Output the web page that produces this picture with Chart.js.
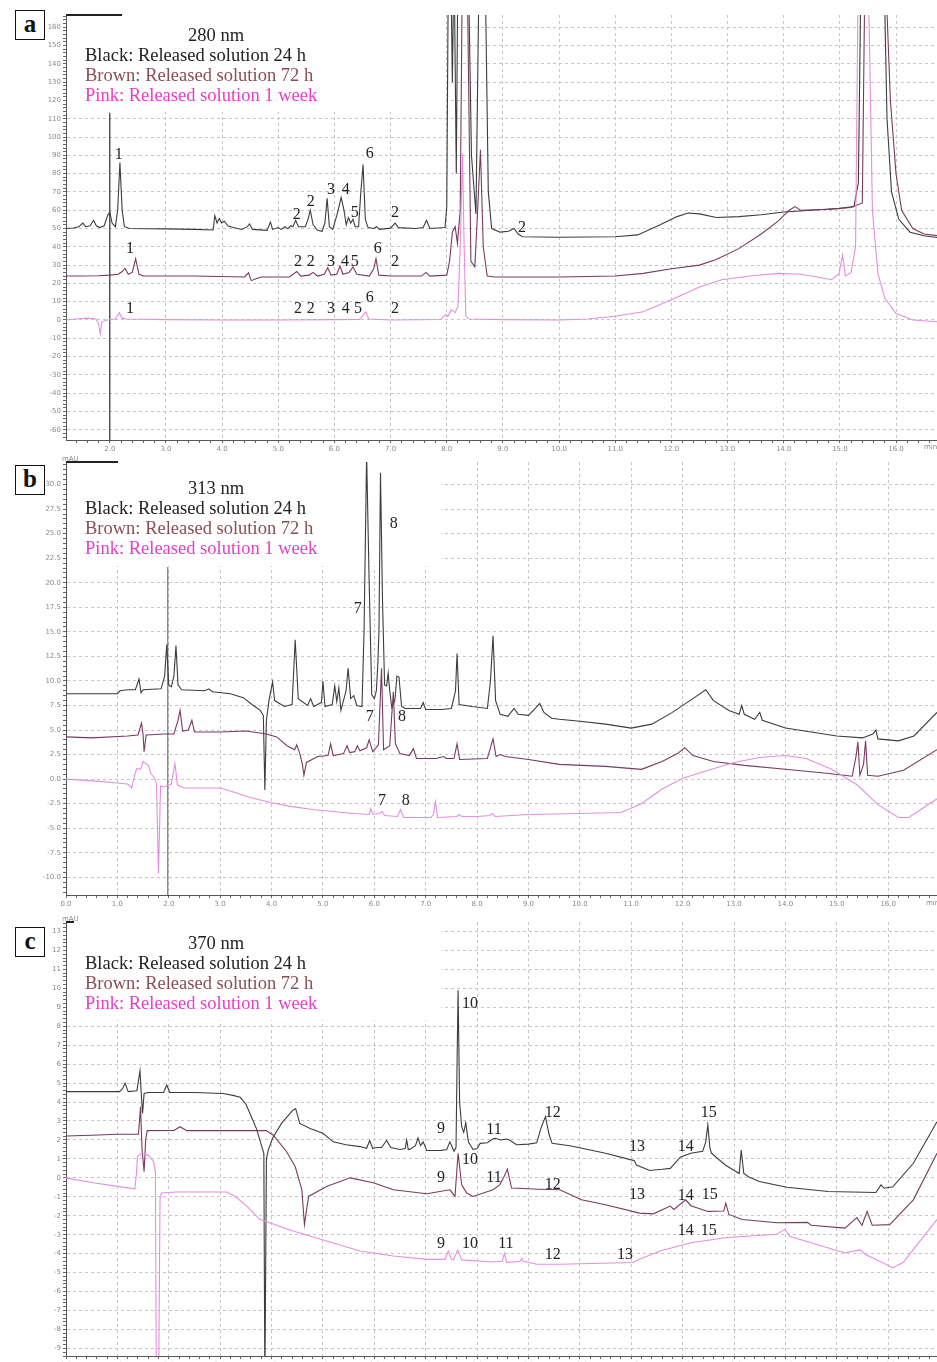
<!DOCTYPE html>
<html><head><meta charset="utf-8">
<script src="https://cdn.jsdelivr.net/npm/chart.js@4.4.1/dist/chart.umd.min.js"></script>
<style>
html,body{margin:0;padding:0;background:#fff;}
body{width:937px;height:1362px;overflow:hidden;position:relative;}
canvas{position:absolute;left:0;}
.tag{position:absolute;left:15px;width:28px;height:28px;border:1.6px solid #111;font:bold 25px "Liberation Serif",serif;line-height:25px;text-align:center;color:#111;background:#fff;z-index:5}
.leg{position:absolute;left:85px;font:18.5px "Liberation Serif",serif;line-height:20px;z-index:5;white-space:nowrap}
.leg div{height:20px}
.nm{padding-left:103px;color:#222}
.k{color:#222}.br{color:#8a4d57}.pk{color:#e23fc8}
.sm{position:absolute;font:7px "DejaVu Sans",sans-serif;color:#888;z-index:5}
</style></head>
<body>
<canvas id="ca" width="937" height="453" style="top:7px"></canvas>
<canvas id="cb" width="937" height="461" style="top:454px"></canvas>
<canvas id="cc" width="937" height="462" style="top:914px"></canvas>

<div class="tag" style="top:10px">a</div>
<div class="tag" style="top:465px">b</div>
<div class="tag" style="top:927px">c</div>

<div class="leg" style="top:25px"><div class="nm">280 nm</div><div class="k">Black: Released solution 24 h</div><div class="br">Brown: Released solution 72 h</div><div class="pk">Pink: Released solution 1 week</div></div>
<div class="leg" style="top:478px"><div class="nm">313 nm</div><div class="k">Black: Released solution 24 h</div><div class="br">Brown: Released solution 72 h</div><div class="pk">Pink: Released solution 1 week</div></div>
<div class="leg" style="top:933px"><div class="nm">370 nm</div><div class="k">Black: Released solution 24 h</div><div class="br">Brown: Released solution 72 h</div><div class="pk">Pink: Released solution 1 week</div></div>

<div class="sm" style="left:924px;top:443px">min</div>
<div class="sm" style="left:926px;top:899px">min</div>
<div class="sm" style="left:62px;top:455px">mAU</div>
<div class="sm" style="left:62px;top:915px">mAU</div>

<script>
// ---------- Panel a : 280 nm ----------
const A280_BLACK = [[1.22,50],[1.35,50.3],[1.45,51],[1.52,53],[1.57,51],[1.65,51.5],[1.71,54.5],[1.76,51.5],[1.82,50.5],[1.9,51.5],[1.96,57],[2.0,59],[2.04,53],[2.1,51],[2.14,60],[2.18,86],[2.22,60],[2.26,51],[2.35,50],[3.0,49.8],[3.5,49.5],[3.84,49.2],[3.87,57],[3.91,53],[3.95,55.5],[3.99,53],[4.04,54],[4.1,51.5],[4.2,50.5],[4.35,49.5],[4.45,51],[4.49,52.5],[4.54,49.5],[4.8,49],[4.86,53.5],[4.9,49.5],[5.0,50.5],[5.05,49.5],[5.12,51],[5.17,49.8],[5.22,51.5],[5.26,51],[5.31,54.5],[5.36,51],[5.48,51],[5.53,55],[5.57,60],[5.62,52],[5.7,49],[5.78,48.5],[5.83,53],[5.87,66.5],[5.91,51],[5.97,49.5],[6.05,58],[6.12,67],[6.17,60],[6.21,52],[6.25,56],[6.29,53],[6.33,55],[6.37,51],[6.43,51],[6.47,70],[6.51,85],[6.55,55],[6.6,50.5],[6.7,50],[6.75,51],[6.8,49.5],[7.0,50.2],[7.08,53],[7.14,50.5],[7.45,50],[7.58,50.5],[7.64,54.5],[7.7,50],[7.97,50.5],[8.0,62],[8.03,200],[8.07,200],[8.1,130],[8.13,200],[8.17,80],[8.2,200],[8.38,200],[8.44,90],[8.52,58],[8.58,200],[8.68,200],[8.74,70],[8.8,50],[8.95,48],[9.1,48.5],[9.2,50],[9.27,47],[9.35,45.5],[10.0,45.2],[11.0,45.5],[11.4,46.5],[11.8,52],[12.1,56.5],[12.3,58.5],[12.5,58],[12.8,56],[13.2,56.5],[13.6,57.5],[14.0,59],[14.5,60],[15.0,61],[15.25,62],[15.33,75],[15.38,200],[15.78,200],[15.84,110],[15.92,70],[16.05,55],[16.25,48],[16.5,46],[16.75,45]];
const A280_BROWN = [[1.22,24],[1.5,24],[1.8,24.2],[2.0,24.5],[2.15,25],[2.22,26.5],[2.27,28.2],[2.33,25],[2.4,26],[2.46,33.5],[2.52,25],[2.6,24],[3.5,24],[4.4,23.5],[4.47,25.8],[4.52,21.5],[4.6,22.5],[4.7,23.5],[5.2,23.5],[5.33,26.5],[5.4,24],[5.55,24.5],[5.62,26],[5.7,24],[5.82,25],[5.88,28.5],[5.94,24.5],[6.04,25],[6.1,29.5],[6.15,25],[6.26,26],[6.33,29],[6.4,25],[6.62,24],[6.7,28],[6.74,33.5],[6.79,24.5],[7.0,24],[7.55,24],[7.63,26],[7.7,24],[8.0,24.5],[8.05,32],[8.1,48],[8.15,51],[8.19,42],[8.24,60],[8.28,200],[8.36,200],[8.43,32],[8.5,29],[8.55,60],[8.6,93],[8.65,40],[8.72,24],[8.85,23.5],[10.0,23.5],[11.0,24],[11.5,25.5],[12.0,28],[12.5,30],[12.8,33],[13.2,39],[13.6,47],[13.9,54],[14.1,60],[14.2,62],[14.3,60],[14.8,60.5],[15.2,61.5],[15.4,64],[15.45,200],[15.8,200],[15.9,120],[16.0,80],[16.1,60],[16.3,50],[16.5,47],[16.75,46]];
const A280_PINK = [[1.22,0],[1.4,0.5],[1.6,1],[1.75,0.5],[1.8,-2],[1.83,-7.6],[1.86,-1],[1.95,0],[2.1,0.5],[2.17,4],[2.22,1],[2.3,0.5],[3,0.2],[4,0],[5,0],[6,0.2],[6.45,0.3],[6.52,3],[6.56,4.5],[6.61,0.5],[7,0],[7.9,0.3],[7.98,3],[8.02,2],[8.08,5.5],[8.15,4],[8.2,8],[8.24,40],[8.28,91],[8.31,40],[8.34,2],[8.4,0.5],[9,0.2],[10,0],[10.5,0.5],[11,2],[11.5,4.5],[12,11],[12.5,18],[12.9,22],[13.4,24],[13.9,25.5],[14.3,25],[14.6,23.5],[14.85,22],[14.98,25],[15.05,35.5],[15.1,24],[15.2,26],[15.28,40],[15.33,200],[15.5,200],[15.58,60],[15.68,25],[15.8,12],[16.0,3.5],[16.3,0],[16.75,-1]];
const A280_MARK = [[2.0,113],[2.0,-70]];
const A280_PEAK_TXT = ['1','2','2','3','4','5','6','2','2', '1','2','2','3','4','5','6','2', '1','2','2','3','4','5','6','2'];
const A280_PEAK_T   = [2.16,5.33,5.58,5.94,6.2,6.36,6.63,7.08,9.34, 2.36,5.35,5.58,5.94,6.19,6.36,6.77,7.08, 2.36,5.35,5.58,5.94,6.2,6.42,6.63,7.08];
const A280_PEAK_V   = [90.2,57.4,64.5,71,71,58.5,90.7,58.5,50.3, 38.8,31.7,31.7,31.7,31.7,31.7,38.8,31.7, 6,6,6,6,6,6,12,6];

// ---------- Panel b : 313 nm ----------
const B313_BLACK = [[0,8.7],[1.0,8.7],[1.05,9.0],[1.2,9.1],[1.35,9.1],[1.42,10.2],[1.46,8.8],[1.5,9.1],[1.85,9.2],[1.92,10.5],[1.96,13.7],[2.0,9.6],[2.05,9.4],[2.1,10.5],[2.14,13.6],[2.18,9.6],[2.25,9.1],[2.7,9.0],[2.78,9.2],[2.85,8.9],[3.2,8.7],[3.45,8.3],[3.62,7.6],[3.78,7.0],[3.84,6.5],[3.87,-1.1],[3.9,6],[3.95,8.0],[4.02,9.9],[4.06,8.0],[4.25,7.4],[4.4,7.6],[4.46,14.2],[4.52,8.2],[4.7,7.5],[4.76,8.2],[4.82,7.4],[4.97,7.8],[5.0,10.0],[5.04,7.4],[5.18,7.6],[5.23,9.5],[5.27,7.9],[5.31,9.3],[5.35,7.0],[5.45,9.0],[5.49,11.3],[5.54,8.2],[5.6,8.5],[5.66,7.5],[5.76,7.4],[5.8,15],[5.85,33],[5.9,20],[5.95,8.6],[6.0,8.2],[6.04,9],[6.07,11.9],[6.09,15],[6.12,31.2],[6.16,18],[6.2,9.6],[6.24,9.5],[6.27,10.8],[6.3,9],[6.34,7.3],[6.4,8],[6.44,10.5],[6.48,10.4],[6.53,7.4],[6.6,7.2],[6.9,7.2],[6.95,7.8],[7.0,7.1],[7.3,7.1],[7.5,7.2],[7.58,9],[7.61,12.8],[7.65,7.6],[7.9,7.4],[8.2,7.2],[8.26,10],[8.31,14.6],[8.36,8],[8.45,6.6],[8.6,6.4],[8.72,7.2],[8.8,6.6],[9.0,6.5],[9.15,7.3],[9.22,7.7],[9.3,6.8],[9.45,6.2],[9.6,6.1],[10.0,5.9],[10.5,5.6],[11.0,5.2],[11.4,5.6],[11.8,6.8],[12.2,8.2],[12.45,9.1],[12.6,8.0],[12.9,7.0],[13.1,6.6],[13.15,7.5],[13.2,6.6],[13.4,6.1],[13.5,6.8],[13.55,6.0],[14.0,5.2],[14.5,4.8],[15.0,4.4],[15.5,4.2],[15.7,4.6],[15.76,5.0],[15.8,4.1],[16.2,3.9],[16.5,4.4],[16.95,6.8]];
const B313_BROWN = [[0,4.3],[0.5,4.2],[1.2,4.4],[1.4,4.5],[1.47,5.7],[1.5,4.5],[1.52,2.8],[1.56,4.5],[1.9,4.6],[2.1,4.6],[2.18,6.0],[2.22,7.0],[2.27,4.9],[2.38,5.0],[2.45,6.0],[2.5,4.8],[3.0,4.8],[3.5,4.9],[3.9,4.6],[4.1,4.3],[4.3,3.4],[4.45,3.0],[4.49,3.5],[4.55,2.6],[4.6,1.5],[4.63,0.4],[4.68,1.7],[4.9,2.3],[5.1,2.4],[5.15,3.6],[5.2,2.4],[5.4,2.6],[5.47,3.4],[5.52,2.7],[5.62,2.8],[5.67,3.4],[5.72,2.9],[5.85,3.2],[5.9,4.0],[5.97,2.8],[6.08,3.5],[6.14,11.3],[6.18,3.0],[6.3,3.4],[6.37,8.9],[6.41,3.6],[6.5,2.6],[6.68,2.4],[6.76,3.1],[6.82,2.1],[7.2,2.1],[7.35,2.3],[7.4,2.1],[7.55,2.1],[7.61,3.6],[7.66,2.0],[8.2,2.1],[8.31,4.1],[8.37,2.3],[8.45,2.5],[8.55,2.3],[9.0,2.0],[9.6,1.5],[10.5,1.3],[11.2,1.0],[11.6,1.8],[11.9,2.6],[12.04,3.2],[12.2,2.4],[12.6,1.8],[13.2,1.4],[14.0,1.0],[14.8,0.6],[15.3,0.3],[15.38,2.5],[15.41,3.8],[15.45,0.4],[15.52,1.5],[15.56,3.9],[15.6,0.4],[15.8,0.3],[16.3,0.9],[16.95,3.0]];
const B313_PINK = [[0,0],[0.6,-0.2],[1.0,-0.4],[1.2,-0.5],[1.28,-0.9],[1.33,0.3],[1.38,1.1],[1.45,1.0],[1.5,1.8],[1.6,1.4],[1.65,0.6],[1.72,0.1],[1.76,-0.4],[1.8,-9.6],[1.84,-0.7],[1.9,-0.8],[2.05,-0.5],[2.12,1.6],[2.17,-0.6],[2.3,-0.9],[3.0,-0.9],[3.2,-1.2],[3.6,-1.9],[4.0,-2.4],[4.4,-2.8],[4.8,-3.1],[5.2,-3.3],[5.6,-3.5],[5.9,-3.6],[5.93,-3.0],[5.97,-3.6],[6.1,-3.5],[6.15,-3.3],[6.2,-3.7],[6.45,-3.8],[6.51,-3.1],[6.57,-3.9],[7.1,-3.9],[7.15,-3.6],[7.19,-2.3],[7.23,-3.9],[7.6,-3.8],[7.65,-3.6],[7.7,-3.8],[8.0,-3.8],[8.25,-3.7],[8.3,-3.5],[8.35,-3.8],[9.0,-3.6],[10.0,-3.5],[10.8,-3.4],[11.2,-2.5],[11.6,-1.0],[12.0,0.1],[12.5,0.9],[13.0,1.7],[13.5,2.2],[14.0,2.4],[14.4,2.1],[14.9,1.0],[15.4,-0.6],[15.8,-2.6],[16.2,-3.9],[16.4,-3.9],[16.95,-2.0]];
const B313_MARK = [[1.98,21.6],[1.98,-12]];
const B313_PEAK_TXT = ['7','8','7','8','7','8'];
const B313_PEAK_T   = [5.68,6.38,5.91,6.54,6.15,6.61];
const B313_PEAK_V   = [17.3,26,6.4,6.4,-2.2,-2.2];

// ---------- Panel c : 370 nm ----------
const C370_BLACK = [[0,4.55],[1.04,4.55],[1.1,4.7],[1.15,5.0],[1.21,4.55],[1.38,4.6],[1.42,5.3],[1.44,5.65],[1.47,4.2],[1.49,3.4],[1.52,4.45],[1.6,4.5],[1.9,4.5],[1.96,4.9],[2.02,4.5],[2.5,4.5],[3.06,4.45],[3.25,4.35],[3.39,4.25],[3.5,3.9],[3.58,3.4],[3.71,2.57],[3.81,1.65],[3.85,1.3],[3.87,-11],[3.9,1.0],[3.94,1.5],[4.03,2.14],[4.2,2.9],[4.42,3.58],[4.47,3.65],[4.55,2.87],[4.75,2.6],[5.0,2.35],[5.2,1.9],[5.45,1.75],[5.72,1.65],[5.85,1.56],[5.91,1.97],[5.97,1.55],[6.04,1.6],[6.14,1.6],[6.24,1.97],[6.32,1.6],[6.5,1.5],[6.6,1.55],[6.63,2.0],[6.66,1.5],[6.69,1.5],[6.8,1.7],[6.85,2.1],[6.9,1.7],[6.95,1.9],[7.02,1.44],[7.3,1.45],[7.41,1.5],[7.47,1.9],[7.55,1.4],[7.59,1.6],[7.61,6],[7.63,9.9],[7.66,4],[7.7,2.7],[7.74,2.4],[7.78,2.9],[7.83,1.9],[7.92,1.5],[8.0,1.55],[8.06,1.82],[8.2,1.85],[8.3,2.05],[8.36,2.09],[8.45,2.0],[8.57,2.05],[8.63,2.0],[8.77,1.75],[9.0,1.78],[9.16,1.85],[9.24,2.6],[9.33,3.23],[9.4,2.3],[9.46,1.82],[9.83,1.68],[10.5,1.3],[11.0,0.95],[11.06,0.91],[11.1,0.68],[11.36,0.39],[11.6,0.45],[11.76,0.5],[11.96,1.1],[12.16,1.3],[12.39,1.4],[12.45,1.9],[12.49,2.8],[12.53,1.6],[12.56,1.3],[12.83,0.68],[13.1,0.23],[13.14,1.47],[13.19,0.23],[13.29,0.05],[13.49,-0.19],[14.03,-0.5],[14.83,-0.72],[15.76,-0.77],[15.86,-0.37],[15.92,-0.55],[16.09,-0.47],[16.49,0.77],[16.95,2.96]];
const C370_BROWN = [[0,2.21],[0.5,2.25],[1.0,2.3],[1.41,2.3],[1.43,3.0],[1.45,3.75],[1.48,1.5],[1.52,0.33],[1.55,2.0],[1.58,2.49],[2.1,2.5],[2.22,2.7],[2.35,2.49],[3.9,2.49],[4.03,2.26],[4.29,1.39],[4.46,0.6],[4.59,-0.63],[4.64,-2.47],[4.72,-0.98],[5.07,-0.46],[5.53,0],[5.98,-0.26],[6.37,-0.63],[7.02,-0.84],[7.47,-0.63],[7.57,-0.98],[7.63,1.3],[7.7,-0.37],[7.8,-0.8],[7.92,-0.98],[8.31,-0.63],[8.44,-0.37],[8.53,0.1],[8.59,0.46],[8.67,-0.54],[9.2,-0.6],[9.61,-0.63],[10.03,-1.16],[10.5,-1.42],[11.16,-1.86],[11.43,-1.9],[11.76,-1.49],[11.83,-1.67],[12.06,-1.16],[12.16,-1.47],[12.49,-1.77],[12.8,-1.75],[12.84,-1.33],[12.9,-1.93],[13.16,-2.2],[13.83,-2.37],[14.43,-2.35],[14.5,-2.5],[15.16,-2.65],[15.39,-2.1],[15.49,-2.5],[15.59,-1.77],[15.69,-2.5],[16.03,-2.47],[16.49,-1.16],[16.95,1.3]];
const C370_PINK = [[0,0],[0.53,-0.26],[1.0,-0.45],[1.34,-0.58],[1.37,0.2],[1.39,1.14],[1.47,1.28],[1.6,1.2],[1.7,0.88],[1.74,0.3],[1.76,-12],[1.8,-12],[1.83,-1.05],[1.86,-0.8],[2.15,-0.75],[3.13,-0.75],[3.3,-1.0],[3.52,-1.49],[3.77,-2.19],[4.42,-2.8],[5.07,-3.33],[5.72,-3.86],[6.37,-4.12],[7.02,-4.3],[7.38,-4.3],[7.44,-3.86],[7.5,-4.3],[7.54,-4.33],[7.62,-3.82],[7.7,-4.33],[8.31,-4.44],[8.49,-4.4],[8.53,-3.98],[8.58,-4.47],[8.84,-4.4],[8.87,-4.25],[8.9,-4.4],[9.16,-4.56],[9.61,-4.56],[11.03,-4.47],[11.16,-4.3],[11.56,-3.86],[12.16,-3.42],[12.83,-3.16],[13.83,-2.98],[13.99,-2.72],[14.09,-3.1],[14.5,-3.42],[15.03,-3.86],[15.16,-3.95],[15.46,-3.8],[15.56,-4.04],[16.09,-4.74],[16.29,-4.47],[16.49,-3.77],[16.95,-2.2]];
const C370_PEAK_TXT = ['9','10','11','12','13','14','15', '9','10','11','12','13','14','15', '9','10','11','12','13','14','15'];
const C370_PEAK_T   = [7.3,7.86,8.33,9.47,11.11,12.06,12.51, 7.3,7.86,8.33,9.47,11.11,12.06,12.53, 7.3,7.86,8.56,9.47,10.88,12.06,12.51];
const C370_PEAK_V   = [2.58,9.2,2.53,3.42,1.63,1.63,3.42, 0,0.95,0,-0.37,-0.9,-0.95,-0.9, -3.47,-3.47,-3.47,-4.05,-4.05,-2.79,-2.79];

// ---------- drawing ----------
const COL_BLACK = '#3c3c3c', COL_BROWN = '#7a3a5e', COL_PINK = '#e48ee0';
const pts = a => a.map(p => ({x: p[0], y: p[1]}));
function stepTicks(min, max, step) {
  const t = [];
  for (let i = Math.ceil(min / step - 1e-9); i * step <= max + 1e-9; i++) t.push({value: +(i * step).toFixed(4)});
  return t;
}
const isMul = (v, m) => Math.abs(v / m - Math.round(v / m)) < 1e-6;

const decor = {
  id: 'decor',
  beforeDatasetsDraw(chart, args, o) {
    const {ctx, chartArea: a} = chart;
    ctx.save();
    ctx.fillStyle = '#fff';
    ctx.fillRect(a.left + 1, a.top, o.boxW, o.boxH);
    ctx.fillStyle = '#222';
    ctx.fillRect(a.left, a.top - 1, o.barW, 2);
    ctx.restore();
  },
  afterDatasetsDraw(chart, args, o) {
    const {ctx, scales: {x, y}} = chart;
    ctx.save();
    ctx.font = '16px "Liberation Serif", serif';
    ctx.fillStyle = '#222';
    ctx.textAlign = 'center';
    ctx.textBaseline = 'middle';
    o.txt.forEach((s, i) => ctx.fillText(s, x.getPixelForValue(o.t[i]), y.getPixelForValue(o.v[i])));
    ctx.restore();
  }
};

function panel(id, c) {
  const lineDs = (d, col, w) => ({data: pts(d), borderColor: col, borderWidth: w, pointRadius: 0, tension: 0, fill: false});
  const ds = [lineDs(c.pink, COL_PINK, 1.1), lineDs(c.brown, COL_BROWN, 1.1), lineDs(c.black, COL_BLACK, 1.1)];
  if (c.mark) ds.push(lineDs(c.mark, c.markCol, 1.2));
  new Chart(document.getElementById(id), {
    type: 'line',
    data: {datasets: ds},
    plugins: [decor],
    options: {
      responsive: false, animation: false, parsing: false, normalized: true,
      layout: {padding: {top: 8, right: 0, left: 0, bottom: 0}},
      plugins: {legend: {display: false}, tooltip: {enabled: false},
        decor: {boxW: c.boxW, boxH: c.boxH, barW: c.barW, txt: c.txt, t: c.t, v: c.v}},
      scales: {
        x: {type: 'linear', min: c.xmin, max: c.xmax,
          afterBuildTicks: s => { s.ticks = stepTicks(c.xmin, c.xmax, 0.2); },
          afterFit: s => { s.height = 20; },
          ticks: {autoSkip: false, maxRotation: 0, padding: 2, color: '#8a8a8a', font: {family: 'DejaVu Sans', size: 7},
            callback: v => isMul(v, 1) ? v.toFixed(1) : ''},
          grid: {color: ctx => (ctx.tick && isMul(ctx.tick.value, 1)) ? '#c6c6c6' : 'rgba(0,0,0,0)', lineWidth: 1, tickColor: '#666', tickLength: 3},
          border: {dash: [3, 3], color: '#555', width: 1}},
        y: {type: 'linear', min: c.ymin, max: c.ymax,
          afterBuildTicks: s => { s.ticks = stepTicks(c.ymin, c.ymax, c.yminor); },
          afterFit: s => { s.width = 66; },
          ticks: {autoSkip: false, padding: 2, color: '#8a8a8a', font: {family: 'DejaVu Sans', size: 7},
            callback: v => isMul(v, c.ymajor) ? v.toFixed(c.ydec) : ''},
          grid: {color: ctx => (ctx.tick && isMul(ctx.tick.value, c.ymajor)) ? '#c6c6c6' : 'rgba(0,0,0,0)', lineWidth: 1, tickColor: '#666', tickLength: 3},
          border: {dash: [3, 3], color: '#555', width: 1}}
      }
    }
  });
}

panel('ca', {black: A280_BLACK, brown: A280_BROWN, pink: A280_PINK, mark: A280_MARK, markCol: '#333',
  xmin: 1.22, xmax: 16.73, ymin: -65.6, ymax: 166.7, yminor: 2, ymajor: 10, ydec: 0,
  boxW: 379, boxH: 97, barW: 56, txt: A280_PEAK_TXT, t: A280_PEAK_T, v: A280_PEAK_V});
panel('cb', {black: B313_BLACK, brown: B313_BROWN, pink: B313_PINK, mark: B313_MARK, markCol: '#777',
  xmin: 0, xmax: 16.95, ymin: -11.8, ymax: 32.3, yminor: 0.5, ymajor: 2.5, ydec: 1,
  boxW: 374, boxH: 104, barW: 52, txt: B313_PEAK_TXT, t: B313_PEAK_T, v: B313_PEAK_V});
panel('cc', {black: C370_BLACK, brown: C370_BROWN, pink: C370_PINK, mark: null,
  xmin: 0, xmax: 16.95, ymin: -9.4, ymax: 13.5, yminor: 0.2, ymajor: 1, ydec: 0,
  boxW: 374, boxH: 98, barW: 8, txt: C370_PEAK_TXT, t: C370_PEAK_T, v: C370_PEAK_V});
</script>
</body></html>
